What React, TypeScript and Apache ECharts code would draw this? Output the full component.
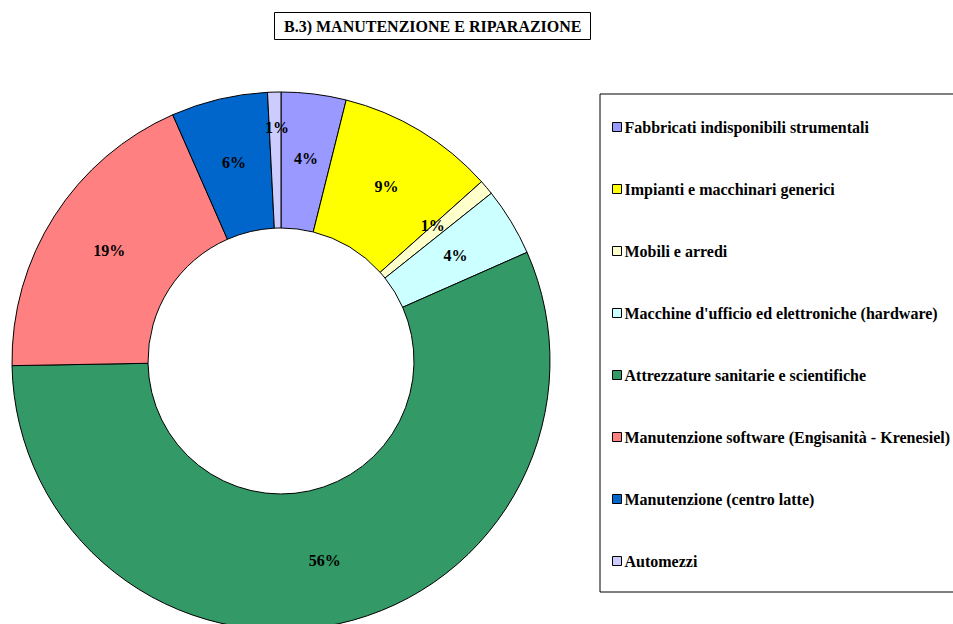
import React, { useEffect, useRef } from "react";
import * as echarts from "echarts";

const titleText = "B.3) MANUTENZIONE E RIPARAZIONE";
const categories = [
  "Fabbricati indisponibili strumentali",
  "Impianti e macchinari generici",
  "Mobili e arredi",
  "Macchine d'ufficio ed elettroniche (hardware)",
  "Attrezzature sanitarie e scientifiche",
  "Manutenzione software (Engisanità - Krenesiel)",
  "Manutenzione (centro latte)",
  "Automezzi",
];
const values = [3.9, 9.5, 0.9, 4.1, 56.4, 18.7, 5.8, 0.8];
const colors = ["#9999FF", "#FFFF00", "#FFFFCC", "#CCFFFF", "#339966", "#FF8080", "#0066CC", "#CCCCFF"];

const FONT = '"Liberation Serif", "Times New Roman", serif';

export default function App() {
  const ref = useRef<HTMLDivElement>(null);
  useEffect(() => {
    if (!ref.current) return;
    const chart = echarts.init(ref.current, null, { renderer: "svg" });
    chart.setOption({
      animation: false,
      backgroundColor: "#ffffff",
      title: {
        text: titleText,
        left: 274,
        top: 12,
        borderColor: "#000",
        borderWidth: 1,
        padding: [6, 9, 6, 10],
        textStyle: { fontFamily: FONT, fontWeight: "bold", fontSize: 16, color: "#000" },
      },
      graphic: [
        {
          type: "rect",
          shape: { x: 600, y: 94, width: 420, height: 498 },
          style: { fill: "none", stroke: "#000", lineWidth: 1 },
          silent: true,
        },
      ],
      legend: {
        orient: "vertical",
        left: 607,
        top: 114,
        itemWidth: 9,
        itemHeight: 9,
        itemGap: 46,
        icon: "rect",
        selectedMode: false,
        itemStyle: { borderColor: "#000", borderWidth: 1 },
        textStyle: { fontFamily: FONT, fontWeight: "bold", fontSize: 16, color: "#000", padding: [0, 0, 0, -2] },
        data: categories,
      },
      series: [
        {
          type: "pie",
          center: [281, 361],
          radius: [133, 269],
          startAngle: 90,
          clockwise: true,
          avoidLabelOverlap: false,
          itemStyle: { borderColor: "#000", borderWidth: 1 },
          label: {
            show: true,
            position: "inside",
            fontFamily: FONT,
            fontWeight: "bold",
            fontSize: 16,
            color: "#000",
            formatter: (p: any) => Math.round(p.percent) + "%",
          },
          labelLine: { show: false },
          emphasis: { disabled: true },
          data: categories.map((name, i) => ({
            name,
            value: values[i],
            itemStyle: { color: colors[i] },
            label: i === categories.length - 1 ? { offset: [1, -30] } : i === 2 ? { offset: [-4, -4] } : undefined,
          })),
        },
      ],
    });
    return () => chart.dispose();
  }, []);
  return (
    <div
      ref={ref}
      style={{ position: "fixed", left: 0, top: 0, width: 953, height: 624 }}
    />
  );
}
